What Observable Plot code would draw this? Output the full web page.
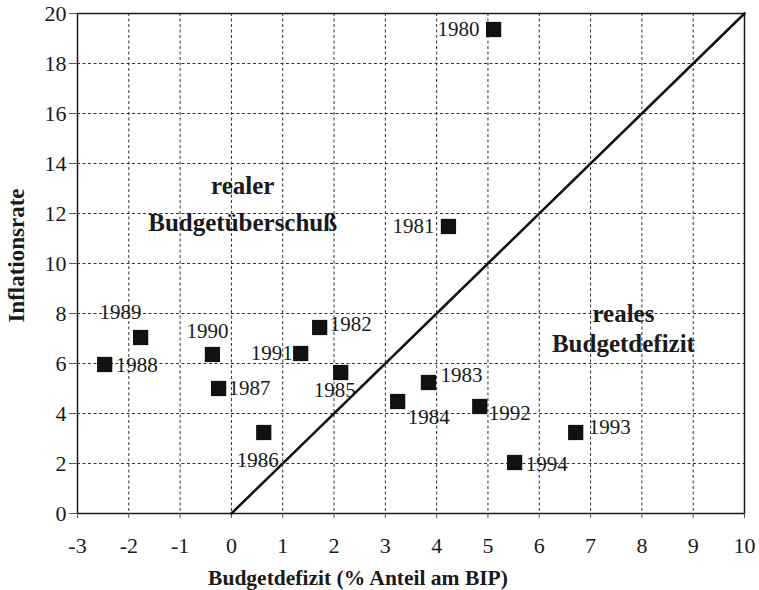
<!DOCTYPE html>
<html>
<head>
<meta charset="utf-8">
<script src="https://cdn.jsdelivr.net/npm/d3@7"></script>
<script src="https://cdn.jsdelivr.net/npm/@observablehq/plot@0.6"></script>
<style>
  html, body { margin: 0; padding: 0; background: #fff; }
  #chart svg { display: block; }
</style>
</head>
<body>
<div id="chart"></div>
<script>
const years   = [1980, 1981, 1982, 1983, 1984, 1985, 1986, 1987, 1988, 1989, 1990, 1991, 1992, 1993, 1994];
const deficit = [5.11, 4.23, 1.72, 3.84, 3.24, 2.13, 0.63, -0.25, -2.47, -1.77, -0.37, 1.35, 4.84, 6.71, 5.52];
const inflation = [19.36, 11.48, 7.44, 5.24, 4.48, 5.64, 3.24, 5.0, 5.96, 7.04, 6.36, 6.4, 4.28, 3.24, 2.04];
const xTicks = [-3, -2, -1, 0, 1, 2, 3, 4, 5, 6, 7, 8, 9, 10];
const yTicks = [0, 2, 4, 6, 8, 10, 12, 14, 16, 18, 20];
const diagonal = [[0, 0], [10, 20]];

const data = years.map((year, i) => ({year, x: deficit[i], y: inflation[i]}));

// label placement: [dx, dy, textAnchor]
const place = {
  1980: [-14, 0, "end"], 1981: [-14, 0, "end"], 1989: [-20, -25, "middle"],
  1988: [11, 1, "start"], 1990: [-5, -23, "middle"], 1987: [10, 0, "start"],
  1986: [-6, 28, "middle"], 1991: [-8, 0, "end"], 1982: [10, -3, "start"],
  1985: [-6, 18, "middle"], 1983: [12, -7, "start"], 1984: [10, 16, "start"],
  1992: [9, 7, "start"], 1994: [11, 2, "start"], 1993: [13, -5, "start"]
};

const labelMarks = data.map(d => {
  const [dx, dy, anchor] = place[d.year];
  return Plot.text([d], {x: "x", y: "y", text: d => String(d.year), dx, dy,
    textAnchor: anchor, lineAnchor: "middle", fontSize: 21, fill: "#1a1a1a"});
});

const serif = "'Liberation Serif', 'Times New Roman', serif";

const chart = Plot.plot({
  width: 759,
  height: 590,
  marginLeft: 77,
  marginRight: 15,
  marginTop: 13,
  marginBottom: 77,
  style: {fontFamily: serif, background: "#fff", color: "#1a1a1a"},
  x: {domain: [-3, 10]},
  y: {domain: [0, 20]},
  marks: [
    Plot.gridX(xTicks.slice(1, -1), {stroke: "#333", strokeOpacity: 1, strokeWidth: 1, strokeDasharray: "3,2.5"}),
    Plot.gridY(yTicks.slice(1, -1), {stroke: "#333", strokeOpacity: 1, strokeWidth: 1, strokeDasharray: "3,2.5"}),
    Plot.frame({stroke: "#1a1a1a", strokeWidth: 1.5}),
    Plot.axisX(xTicks, {tickSize: 5, tickPadding: 19, fontSize: 22, tickFormat: d => String(d), label: null, stroke: "#555"}),
    Plot.axisY(yTicks, {tickSize: 8, tickPadding: 3, fontSize: 22, tickFormat: d => String(d), label: null, stroke: "#555"}),
    Plot.line(diagonal, {x: d => d[0], y: d => d[1], stroke: "#111", strokeWidth: 2.6}),
    Plot.dot(data, {x: "x", y: "y", symbol: "square", r: 8.6, fill: "#111", stroke: "none"}),
    ...labelMarks,
    Plot.text(["realer"], {x: 0.22, y: 13.1, text: d => d, fontSize: 25, fontWeight: "bold", fill: "#1a1a1a", lineAnchor: "middle"}),
    Plot.text(["Budgetüberschuß"], {x: 0.22, y: 11.64, text: d => d, fontSize: 25, fontWeight: "bold", fill: "#1a1a1a", lineAnchor: "middle"}),
    Plot.text(["reales"], {x: 7.64, y: 8.0, text: d => d, fontSize: 25, fontWeight: "bold", fill: "#1a1a1a", lineAnchor: "middle"}),
    Plot.text(["Budgetdefizit"], {x: 7.64, y: 6.8, text: d => d, fontSize: 25, fontWeight: "bold", fill: "#1a1a1a", lineAnchor: "middle"}),
    Plot.text(["Budgetdefizit (% Anteil am BIP)"], {frameAnchor: "bottom", dx: -53, dy: 65, text: d => d, fontSize: 21.5, fontWeight: "bold", fill: "#1a1a1a", textAnchor: "middle", lineAnchor: "middle"}),
    Plot.text(["Inflationsrate"], {frameAnchor: "left", dx: -61, dy: -8, rotate: -90, text: d => d, fontSize: 23, fontWeight: "bold", fill: "#1a1a1a", textAnchor: "middle", lineAnchor: "middle"})
  ]
});
document.getElementById("chart").appendChild(chart);
</script>
</body>
</html>
